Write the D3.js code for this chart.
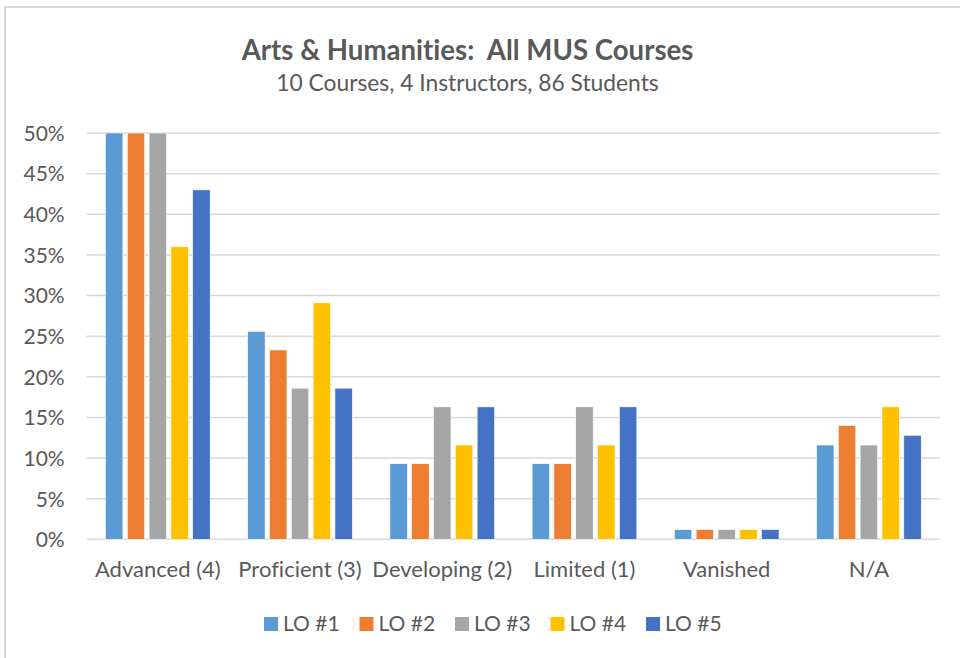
<!DOCTYPE html>
<html>
<head>
<meta charset="utf-8">
<script src="https://cdn.jsdelivr.net/npm/d3@7"></script>
<style>
  body { margin: 0; background: #fff; }
  text { font-family: Lato, "Open Sans", sans-serif; fill: #595959; font-variant-ligatures: none; }
</style>
</head>
<body>
<div id="chart"></div>
<script>
// data
const categories = ['Advanced (4)', 'Proficient (3)', 'Developing (2)', 'Limited (1)', 'Vanished', 'N/A'];
const seriesNames = ['LO #1', 'LO #2', 'LO #3', 'LO #4', 'LO #5'];
const colors = ['#5b9bd5', '#ed7d31', '#a5a5a5', '#ffc000', '#4472c4'];
// share of students per category (Advanced LO #1-#3 run past the 50% axis top)
const lo1 = [0.523, 0.256, 0.093, 0.093, 0.012, 0.116];
const lo2 = [0.535, 0.233, 0.093, 0.093, 0.012, 0.140];
const lo3 = [0.512, 0.186, 0.163, 0.163, 0.012, 0.116];
const lo4 = [0.360, 0.291, 0.116, 0.116, 0.012, 0.163];
const lo5 = [0.430, 0.186, 0.163, 0.163, 0.012, 0.128];
const yTicks = [0, 0.05, 0.10, 0.15, 0.20, 0.25, 0.30, 0.35, 0.40, 0.45, 0.50];

const series = [lo1, lo2, lo3, lo4, lo5];

const width = 960, height = 658;
const plot = { left: 86.7, right: 940, top: 133, bottom: 539.3 };

const svg = d3.select('#chart').append('svg')
  .attr('width', width)
  .attr('height', height);

// chart frame (only top/left edges fall inside the picture)
svg.append('rect')
  .attr('x', 5).attr('y', 7)
  .attr('width', 1000).attr('height', 700)
  .attr('fill', 'none')
  .attr('stroke', '#d9d9d9')
  .attr('stroke-width', 2);

// titles
svg.append('text')
  .attr('x', 467.5).attr('y', 60)
  .attr('text-anchor', 'middle')
  .attr('font-size', 27.6)
  .attr('font-weight', 'bold')
  .style('white-space', 'pre')
  .text('Arts & Humanities:  All MUS Courses');

svg.append('text')
  .attr('x', 467.5).attr('y', 91)
  .attr('text-anchor', 'middle')
  .attr('font-size', 22.8)
  .text('10 Courses, 4 Instructors, 86 Students');

// scales
const x0 = d3.scaleBand()
  .domain(categories)
  .range([plot.left, plot.right]);

const x1 = d3.scaleBand()
  .domain(seriesNames)
  .range([0, x0.bandwidth()])
  .paddingInner(0.2)
  .paddingOuter(0.86);

const y = d3.scaleLinear()
  .domain([0, 0.5])
  .range([plot.bottom, plot.top])
  .clamp(true);

// gridlines
svg.append('g')
  .selectAll('line')
  .data(yTicks)
  .join('line')
  .attr('x1', plot.left)
  .attr('x2', plot.right)
  .attr('y1', d => y(d))
  .attr('y2', d => y(d))
  .attr('stroke', '#d9d9d9')
  .attr('stroke-width', 1.5);

// y axis labels
const yAxis = svg.append('g')
  .attr('transform', `translate(${plot.left - 22},0)`)
  .call(d3.axisLeft(y).tickValues(yTicks).tickFormat(d3.format('.0%')).tickSize(0).tickPadding(0));
yAxis.select('.domain').remove();
yAxis.attr('font-family', null);
yAxis.selectAll('text')
  .attr('font-size', 21)
  .attr('fill', '#595959')
  .attr('dy', '0.35em');

// x axis labels
const xAxis = svg.append('g')
  .attr('transform', `translate(0,${plot.bottom})`)
  .call(d3.axisBottom(x0).tickSize(0).tickPadding(0));
xAxis.select('.domain').remove();
xAxis.attr('font-family', null);
xAxis.selectAll('text')
  .attr('font-size', 22)
  .attr('fill', '#595959')
  .attr('y', 37.5)
  .attr('dy', 0);

// bars
const groups = svg.append('g')
  .selectAll('g')
  .data(categories)
  .join('g')
  .attr('transform', d => `translate(${x0(d)},0)`);

groups.selectAll('rect')
  .data((c, i) => series.map((s, k) => ({ name: seriesNames[k], value: s[i], color: colors[k] })))
  .join('rect')
  .attr('x', d => x1(d.name))
  .attr('width', x1.bandwidth())
  .attr('y', d => y(d.value))
  .attr('height', d => y(0) - y(d.value))
  .attr('fill', d => d.color)
  .attr('stroke', '#fff')
  .attr('stroke-width', 0.6);

// legend
const legend = svg.append('g')
  .attr('transform', 'translate(264,617)');

const item = legend.selectAll('g')
  .data(seriesNames)
  .join('g')
  .attr('transform', (d, i) => `translate(${i * 95.5},0)`);

item.append('rect')
  .attr('width', 14)
  .attr('height', 14)
  .attr('fill', (d, i) => colors[i]);

item.append('text')
  .attr('x', 19)
  .attr('y', 14)
  .attr('font-size', 21)
  .text(d => d);
</script>
</body>
</html>
